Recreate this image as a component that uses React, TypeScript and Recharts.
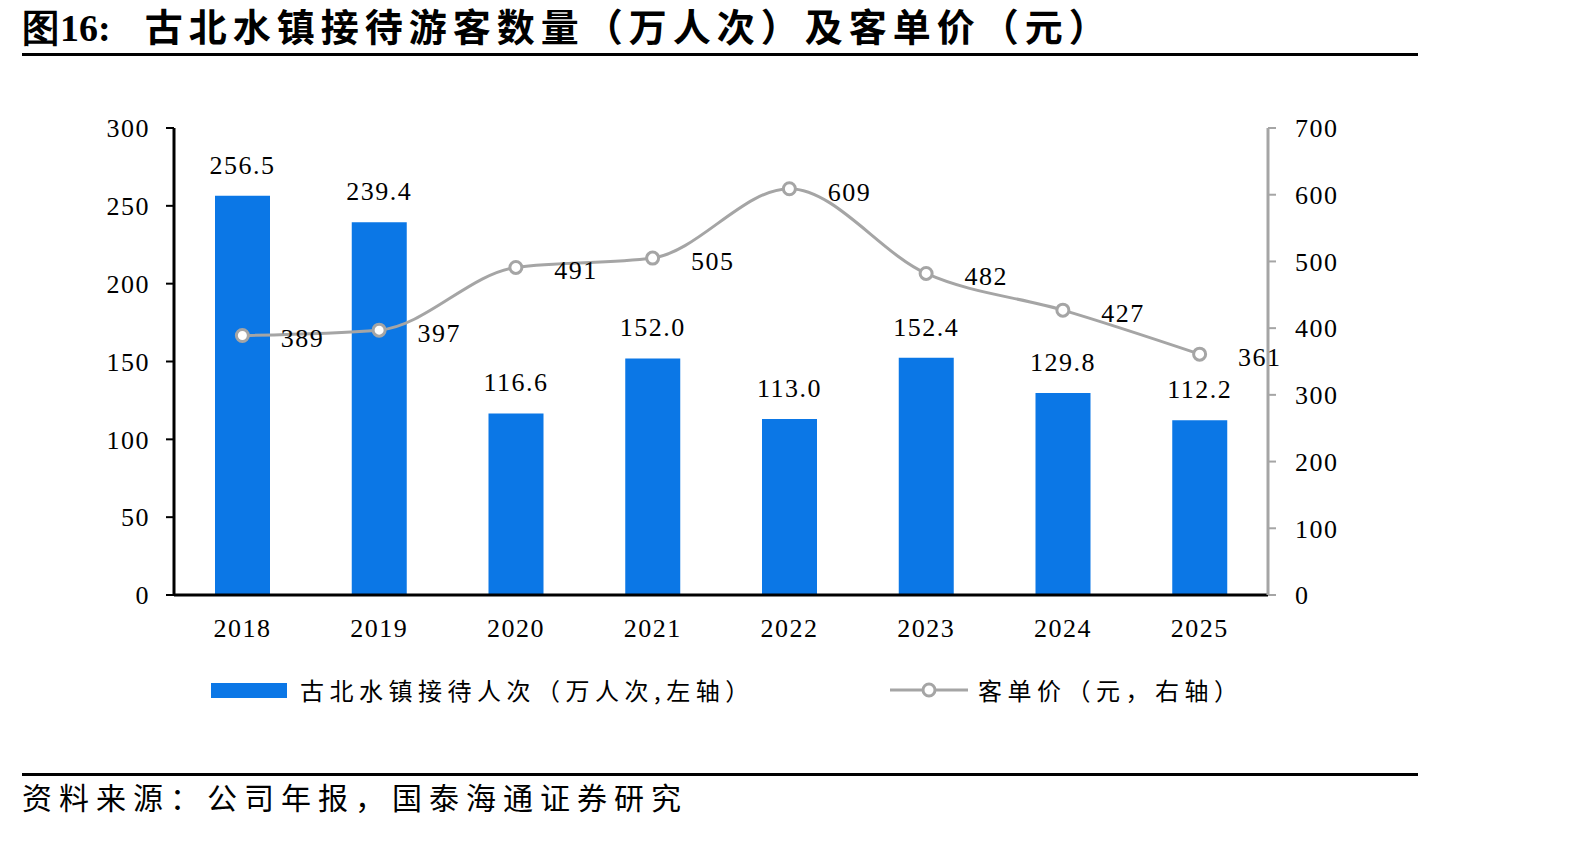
import React from 'react';
import { ComposedChart, Bar, Line, XAxis, YAxis, LabelList } from 'recharts';

const YEARS = ['2018', '2019', '2020', '2021', '2022', '2023', '2024', '2025'];
const VISITORS = [256.5, 239.4, 116.6, 152.0, 113.0, 152.4, 129.8, 112.2];
const PRICE = [389, 397, 491, 505, 609, 482, 427, 361];
const LEFT_TICKS = [0, 50, 100, 150, 200, 250, 300];
const RIGHT_TICKS = [0, 100, 200, 300, 400, 500, 600, 700];
const BOUNDS = [0, 1, 2, 3, 4, 5, 6, 7, 8];

const data = YEARS.map((year, i) => ({ year, visitors: VISITORS[i], price: PRICE[i] }));

const SERIF = '"Liberation Serif", "Times New Roman", serif';
const CJK = '"Noto Sans CJK SC", sans-serif';
const BLUE = '#0B77E6';
const GREY = '#A5A5A5';

const tickStyle = { fontSize: 26, fill: '#000', fontFamily: SERIF, letterSpacing: 1.5 };

// labels of the line sit to the right of each point
const PriceLabel = (props: any) => {
  const { x, y, value } = props;
  return (
    <text x={x + 60} y={y + 6} textAnchor="middle" dominantBaseline="middle"
      fontSize={26} fontFamily={SERIF} letterSpacing={1.5} fill="#000">
      {value}
    </text>
  );
};

const App: React.FC = () => {
  return (
    <div style={{ position: 'absolute', left: 0, top: 0, width: 1592, height: 841, background: '#fff' }}>
      {/* title */}
      <div style={{ position: 'absolute', left: 22, top: 2, fontSize: 38, fontWeight: 700, fontFamily: CJK, letterSpacing: 6, whiteSpace: 'nowrap', lineHeight: '46px' }}>
        <span style={{ fontFamily: SERIF, letterSpacing: 0 }}>图16:</span>
        <span style={{ marginLeft: 34 }}>古北水镇接待游客数量（万人次）及客单价（元）</span>
      </div>
      <div style={{ position: 'absolute', left: 22, top: 53, width: 1396, height: 3, background: '#000' }} />

      <div style={{ position: 'absolute', left: 0, top: 0 }}>
        <ComposedChart width={1592} height={841} data={data}
          margin={{ top: 128, right: 264, bottom: 206, left: 114 }}>
          <XAxis xAxisId="grid" type="number" domain={[0, 8]} ticks={BOUNDS} height={0}
            tick={false} axisLine={false} tickLine={{ stroke: '#000', strokeWidth: 2 }} tickSize={8} />
          <XAxis xAxisId="cat" dataKey="year" height={40} interval={0} tickLine={false}
            axisLine={{ stroke: '#000', strokeWidth: 3 }} tick={tickStyle} tickMargin={18} />
          <YAxis yAxisId="left" orientation="left" width={60} domain={[0, 300]} ticks={LEFT_TICKS}
            interval={0} axisLine={{ stroke: '#000', strokeWidth: 3 }} tickLine={{ stroke: '#000', strokeWidth: 2 }}
            tickSize={8} tickMargin={16} tick={tickStyle} />
          <YAxis yAxisId="right" orientation="right" width={60} domain={[0, 700]} ticks={RIGHT_TICKS}
            interval={0} axisLine={{ stroke: GREY, strokeWidth: 3 }} tickLine={{ stroke: GREY, strokeWidth: 2 }}
            tickSize={8} tickMargin={19} tick={tickStyle} />
          <Bar xAxisId="cat" yAxisId="left" dataKey="visitors" fill={BLUE} barSize={55} isAnimationActive={false}>
            <LabelList dataKey="visitors" position="top" offset={22}
              formatter={(v: any) => Number(v).toFixed(1)}
              style={{ fontSize: 26, fontFamily: SERIF, fill: '#000', letterSpacing: 1.5 }} />
          </Bar>
          <Line xAxisId="cat" yAxisId="right" dataKey="price" type="monotone" stroke={GREY} strokeWidth={3}
            dot={{ r: 6, fill: '#fff', stroke: GREY, strokeWidth: 3 }} isAnimationActive={false}>
            <LabelList dataKey="price" content={PriceLabel} />
          </Line>
        </ComposedChart>
      </div>

      {/* legend */}
      <div style={{ position: 'absolute', left: 211, top: 683, width: 76, height: 15, background: BLUE }} />
      <div style={{ position: 'absolute', left: 300, top: 674, fontSize: 24, fontFamily: CJK, letterSpacing: 5.5, whiteSpace: 'nowrap', lineHeight: '32px' }}>
        古北水镇接待人次（万人次,左轴）
      </div>
      <svg style={{ position: 'absolute', left: 888, top: 680 }} width={82} height={20}>
        <line x1={2} y1={10} x2={80} y2={10} stroke={GREY} strokeWidth={3} />
        <circle cx={41} cy={10} r={6} fill="#fff" stroke={GREY} strokeWidth={3} />
      </svg>
      <div style={{ position: 'absolute', left: 978, top: 674, fontSize: 24, fontFamily: CJK, letterSpacing: 5.5, whiteSpace: 'nowrap', lineHeight: '32px' }}>
        客单价（元，右轴）
      </div>

      {/* source */}
      <div style={{ position: 'absolute', left: 22, top: 773, width: 1396, height: 3, background: '#000' }} />
      <div style={{ position: 'absolute', left: 22, top: 776, fontSize: 30, fontFamily: CJK, letterSpacing: 7, whiteSpace: 'nowrap', lineHeight: '40px' }}>
        资料来源：公司年报，国泰海通证券研究
      </div>
    </div>
  );
};

export default App;
